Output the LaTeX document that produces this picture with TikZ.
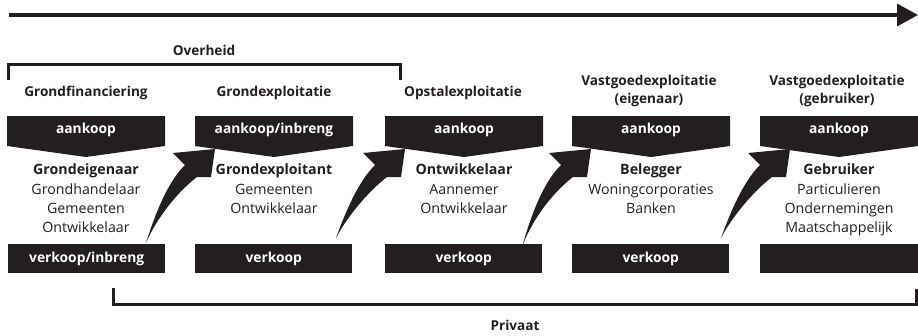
\documentclass[tikz,border=0pt]{standalone}
\usepackage{fontspec}
\setmainfont{Open Sans}
\usetikzlibrary{arrows.meta}
\definecolor{ink}{RGB}{35,31,32}
\newcommand{\flowarrow}[2]{%
  \begin{scope}[xshift=#1pt]
    \fill[ink] (146,#2) .. controls (158,205) and (170,180) .. (185,165) -- (173,153) -- (215,149) -- (211,177) -- (197,177) .. controls (180,190) and (158,215) .. (146,#2) -- cycle;
  \end{scope}}
\newcommand{\topbox}[1]{%
  \fill[ink] (#1,116) -- ++(158,0) -- ++(0,30) -- ++(-79,11) -- ++(-79,-11) -- cycle;}
\tikzset{
  txt/.style={font=\fontsize{14.2}{19.3}\selectfont, align=center, inner sep=0pt, text=ink},
  hdr/.style={font=\fontsize{13.6}{18}\selectfont\bfseries, align=center, inner sep=0pt, text=ink},
  wtxt/.style={font=\fontsize{13.8}{16}\selectfont\bfseries, text=white, inner sep=0pt},
  botbox/.style={fill=ink, draw=none, minimum width=157pt, minimum height=29pt, inner sep=0pt, anchor=north west},
  brk/.style={draw=ink, line width=3pt}
}
\begin{document}
\begin{tikzpicture}[x=1pt,y=-1pt]
\useasboundingbox (0,0) rectangle (918,335);
% time arrow
\coordinate (ts) at (9,15);
\coordinate (te) at (918,15);
\draw[ink, line width=3.5pt, -{Triangle[length=21pt,width=22pt]}] (ts) -- (te);
% Overheid bracket
\node[hdr] (ov) at (204,50) {Overheid};
\draw[brk] (8,80) -- (8,64) -- (400,64) -- (400,80);
% headers
\node[hdr] (h1) at (86,93) {Grondfinanciering};
\node[hdr] (h2) at (274,93) {Grondexploitatie};
\node[hdr] (h3) at (463,93) {Opstalexploitatie};
\node[hdr] (h4) at (649,91) {Vastgoedexploitatie\\(eigenaar)};
\node[hdr] (h5) at (837,91) {Vastgoedexploitatie\\(gebruiker)};
% top boxes
\topbox{7}\topbox{195}\topbox{385}\topbox{572}\topbox{760}
\node[wtxt] (a1) at (86,130) {aankoop};
\node[wtxt] (a2) at (274,130) {aankoop/inbreng};
\node[wtxt] (a3) at (464,130) {aankoop};
\node[wtxt] (a4) at (651,130) {aankoop};
\node[wtxt] (a5) at (839,130) {aankoop};
% body texts
\node[txt, anchor=north] (b1) at (86,164) {\textbf{Grondeigenaar}\\Grondhandelaar\\Gemeenten\\Ontwikkelaar};
\node[txt, anchor=north] (b2) at (274,164) {\textbf{Grondexploitant}\\Gemeenten\\Ontwikkelaar};
\node[txt, anchor=north] (b3) at (464,164) {\textbf{Ontwikkelaar}\\Aannemer\\Ontwikkelaar};
\node[txt, anchor=north] (b4) at (651,164) {\textbf{Belegger}\\Woningcorporaties\\Banken};
\node[txt, anchor=north] (b5) at (839,164) {\textbf{Gebruiker}\\Particulieren\\Ondernemingen\\Maatschappelijk};
% bottom boxes
\node[botbox] (v1) at (8,244) {};
\node[botbox] (v2) at (195,244) {};
\node[botbox] (v3) at (385,244) {};
\node[botbox] (v4) at (572,244) {};
\node[botbox, minimum width=158pt] (v5) at (760,244) {};
\node[wtxt] at (v1.center) {verkoop/inbreng};
\node[wtxt] at (v2.center) {verkoop};
\node[wtxt] at (v3.center) {verkoop};
\node[wtxt] at (v4.center) {verkoop};
% curved arrows
\flowarrow{0}{243}
\flowarrow{190}{238}
\flowarrow{376}{247}
\flowarrow{575}{238}
% Privaat bracket
\draw[brk] (113,288) -- (113,304) -- (916,304) -- (916,289);
\node[hdr] (pr) at (515,325) {Privaat};
\end{tikzpicture}
\end{document}
